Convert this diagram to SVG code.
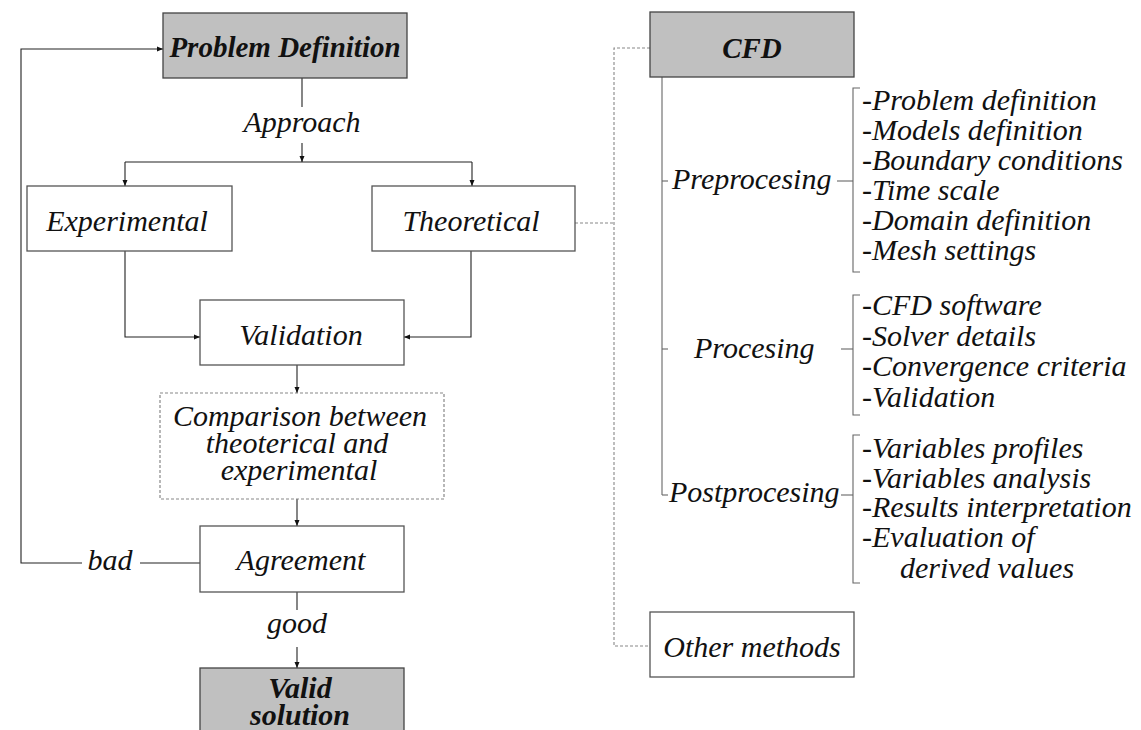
<svg xmlns="http://www.w3.org/2000/svg" width="1141" height="730" viewBox="0 0 1141 730">
<defs>
<marker id="arr" markerUnits="userSpaceOnUse" markerWidth="6" markerHeight="6" refX="6" refY="3" orient="auto">
<path d="M0,0.5 L6,3 L0,5.5 z" fill="#111"/>
</marker>
<style>
.box{fill:#fff;stroke:#555;stroke-width:1.3}
.gray{fill:#c0c0c0;stroke:#444;stroke-width:1.3}
.dbox{fill:#fff;stroke:#888;stroke-width:1.2;stroke-dasharray:3 2}
.ln{fill:none;stroke:#222;stroke-width:1.1}
.gl{fill:none;stroke:#666;stroke-width:1.1}
.dl{fill:none;stroke:#888;stroke-width:1.1;stroke-dasharray:3 2}
.t{font-family:"Liberation Serif","Times New Roman",serif;font-style:italic;font-size:30px;fill:#111}
.b{font-weight:bold}
.m{text-anchor:middle}
</style>
</defs>
<rect width="1141" height="730" fill="#fff"/>

<g id="connectors">
<!-- loop back -->
<polyline class="ln" points="82,563 21,563 21,49 163,49" marker-end="url(#arr)"/>
<line class="ln" x1="200" y1="563" x2="140" y2="563"/>
<!-- approach -->
<line class="ln" x1="302" y1="78" x2="302" y2="107"/>
<line class="ln" x1="302" y1="143" x2="302" y2="162" marker-end="url(#arr)"/>
<line class="ln" x1="125" y1="162" x2="472" y2="162"/>
<line class="ln" x1="125" y1="162" x2="125" y2="186" marker-end="url(#arr)"/>
<line class="ln" x1="472" y1="162" x2="472" y2="186" marker-end="url(#arr)"/>
<!-- to validation -->
<polyline class="ln" points="125,251 125,337 200,337" marker-end="url(#arr)"/>
<polyline class="ln" points="471,251 471,337 404,337" marker-end="url(#arr)"/>
<line class="ln" x1="297" y1="365" x2="297" y2="393" marker-end="url(#arr)"/>
<line class="ln" x1="297" y1="499" x2="297" y2="526" marker-end="url(#arr)"/>
<line class="ln" x1="297" y1="592" x2="297" y2="610"/>
<line class="ln" x1="297" y1="647" x2="297" y2="668" marker-end="url(#arr)"/>
<!-- dashed to CFD / other -->
<polyline class="dl" points="575,223 614,223"/>
<polyline class="dl" points="650,48 614,48 614,646 650,646"/>
<!-- CFD tree -->
<line class="gl" x1="662" y1="77" x2="662" y2="495"/>
<line class="gl" x1="662" y1="181" x2="668" y2="181"/>
<line class="gl" x1="662" y1="349" x2="668" y2="349"/>
<line class="gl" x1="662" y1="495" x2="668" y2="495"/>
<line class="gl" x1="837" y1="181" x2="853" y2="181"/>
<line class="gl" x1="841" y1="349" x2="853" y2="349"/>
<line class="gl" x1="841" y1="495" x2="853" y2="495"/>
<polyline class="gl" points="860,88 853,88 853,272 860,272"/>
<polyline class="gl" points="860,295 853,295 853,415 860,415"/>
<polyline class="gl" points="860,435 853,435 853,583 860,583"/>
</g>

<g id="problem-definition">
<rect class="gray" x="163" y="13" width="244" height="65"/>
<text class="t b m" x="285" y="57" style="font-size:29px">Problem Definition</text>
</g>
<g id="approach"><text class="t m" x="302" y="132">Approach</text></g>
<g id="experimental">
<rect class="box" x="27" y="186" width="205" height="65"/>
<text class="t m" x="127" y="231">Experimental</text>
</g>
<g id="theoretical">
<rect class="box" x="372" y="186" width="203" height="65"/>
<text class="t m" x="471" y="231">Theoretical</text>
</g>
<g id="validation">
<rect class="box" x="200" y="300" width="204" height="65"/>
<text class="t m" x="301" y="345">Validation</text>
</g>
<g id="comparison">
<rect class="dbox" x="160" y="393" width="284" height="106"/>
<text class="t m" x="300" y="426">Comparison between</text>
<text class="t m" x="297" y="453">theoterical and</text>
<text class="t m" x="299" y="480">experimental</text>
</g>
<g id="agreement">
<rect class="box" x="200" y="526" width="204" height="66"/>
<text class="t m" x="301" y="570">Agreement</text>
</g>
<g id="bad"><text class="t m" x="110" y="570">bad</text></g>
<g id="good"><text class="t m" x="297" y="633">good</text></g>
<g id="valid-solution">
<rect class="gray" x="200" y="668" width="204" height="80"/>
<text class="t b m" x="300" y="698">Valid</text>
<text class="t b m" x="300" y="725">solution</text>
</g>

<g id="cfd">
<rect class="gray" x="650" y="12" width="204" height="65"/>
<text class="t b m" x="752" y="58" style="font-size:29px">CFD</text>
</g>
<g id="preprocesing">
<text class="t" x="672" y="189">Preprocesing</text>
<text class="t" x="862" y="110">-Problem definition</text>
<text class="t" x="862" y="140">-Models definition</text>
<text class="t" x="862" y="170">-Boundary conditions</text>
<text class="t" x="862" y="200">-Time scale</text>
<text class="t" x="862" y="230">-Domain definition</text>
<text class="t" x="862" y="260">-Mesh settings</text>
</g>
<g id="procesing">
<text class="t" x="694" y="358">Procesing</text>
<text class="t" x="862" y="315">-CFD software</text>
<text class="t" x="862" y="346">-Solver details</text>
<text class="t" x="862" y="376">-Convergence criteria</text>
<text class="t" x="862" y="407">-Validation</text>
</g>
<g id="postprocesing">
<text class="t" x="669" y="502">Postprocesing</text>
<text class="t" x="862" y="458">-Variables profiles</text>
<text class="t" x="862" y="488">-Variables analysis</text>
<text class="t" x="862" y="517">-Results interpretation</text>
<text class="t" x="862" y="547">-Evaluation of</text>
<text class="t" x="900" y="578">derived values</text>
</g>
<g id="other-methods">
<rect class="box" x="650" y="612" width="204" height="65"/>
<text class="t m" x="752" y="657">Other methods</text>
</g>
</svg>
